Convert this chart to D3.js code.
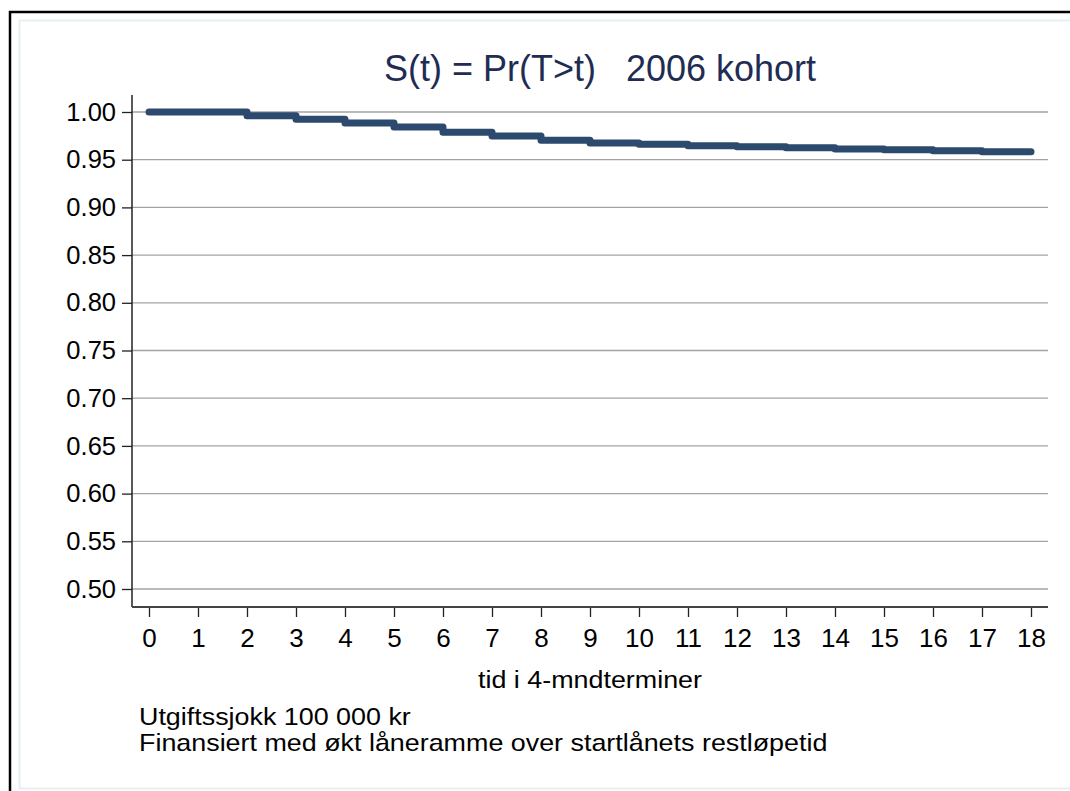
<!DOCTYPE html>
<html lang="no">
  <head>
    <meta charset="utf-8">
    <title>S(t) 2006 kohort</title>
    <script src="https://d3js.org/d3.v7.js"></script>
    <style>
      body { margin: 0; background: white; }
      text { font-family: Arial, "Liberation Sans", sans-serif; }
    </style>
  </head>
  <body>
    <script type="text/javascript">

      // data
      const times = [0, 1, 2, 3, 4, 5, 6, 7, 8, 9, 10, 11, 12, 13, 14, 15, 16, 17, 18];
      const survival = [1.000, 1.000, 0.9962, 0.9923, 0.9885, 0.9843, 0.9787, 0.9748, 0.9703,
                        0.9675, 0.9661, 0.9647, 0.9637, 0.9626, 0.9612, 0.9605, 0.9595, 0.9584, 0.9584];
      const yTicks = [0.50, 0.55, 0.60, 0.65, 0.70, 0.75, 0.80, 0.85, 0.90, 0.95, 1.00];
      const xTicks = times;
      const title = "S(t) = Pr(T>t)   2006 kohort";
      const xTitle = "tid i 4-mndterminer";
      const notes = ["Utgiftssjokk 100 000 kr", "Finansiert med økt låneramme over startlånets restløpetid"];

      const w = 1070;
      const h = 791;
      const plot = {left: 132, right: 1048, top: 95, bottom: 607};

      const svg = d3.select("body")
        .append("svg")
        .attr("width", w)
        .attr("height", h);

      // outer frames
      svg.append("rect")
        .attr("x", 10).attr("y", 12)
        .attr("width", w + 20).attr("height", h + 20)
        .attr("fill", "white")
        .attr("stroke", "black")
        .attr("stroke-width", 2.5);

      svg.append("rect")
        .attr("x", 19.5).attr("y", 20.5)
        .attr("width", w + 20).attr("height", 768)
        .attr("fill", "white")
        .attr("stroke", "#e6eff1")
        .attr("stroke-width", 2);

      const xScale = d3.scaleLinear()
        .domain([0, 18])
        .range([149, 1031]);

      const yScale = d3.scaleLinear()
        .domain([0.5, 1.0])
        .range([589, 112]);

      // gridlines
      svg.append("g")
        .selectAll("line")
        .data(yTicks)
        .enter()
        .append("line")
        .attr("x1", plot.left)
        .attr("x2", plot.right)
        .attr("y1", d => yScale(d))
        .attr("y2", d => yScale(d))
        .attr("stroke", "#a3a3a3")
        .attr("stroke-width", 1.3);

      // y axis
      const yAxis = d3.axisLeft(yScale)
        .tickValues(yTicks)
        .tickFormat(d3.format(".2f"))
        .tickSize(10)
        .tickPadding(6);

      const gy = svg.append("g")
        .attr("transform", `translate(${plot.left}, 0)`)
        .call(yAxis);
      gy.select(".domain").remove();
      gy.selectAll(".tick line").attr("stroke", "#222").attr("stroke-width", 1.3);
      gy.selectAll(".tick text")
        .attr("font-size", 25.5)
        .attr("fill", "black")
        .attr("font-family", "Arial, 'Liberation Sans', sans-serif");

      gy.append("line")
        .attr("x1", 0).attr("x2", 0)
        .attr("y1", plot.top).attr("y2", plot.bottom)
        .attr("stroke", "#222")
        .attr("stroke-width", 1.5);

      // x axis
      const xAxis = d3.axisBottom(xScale)
        .tickValues(xTicks)
        .tickFormat(d3.format("d"))
        .tickSize(10)
        .tickPadding(12);

      const gx = svg.append("g")
        .attr("transform", `translate(0, ${plot.bottom})`)
        .call(xAxis);
      gx.select(".domain").remove();
      gx.selectAll(".tick line").attr("stroke", "#222").attr("stroke-width", 1.3);
      gx.selectAll(".tick text")
        .attr("font-size", 26)
        .attr("fill", "black")
        .attr("font-family", "Arial, 'Liberation Sans', sans-serif");

      gx.append("line")
        .attr("x1", plot.left).attr("x2", plot.right)
        .attr("y1", 0).attr("y2", 0)
        .attr("stroke", "#444")
        .attr("stroke-width", 2);

      // survival step curve
      const line = d3.line()
        .x((d, i) => xScale(times[i]))
        .y(d => yScale(d))
        .curve(d3.curveStepAfter);

      svg.append("path")
        .datum(survival)
        .attr("d", line)
        .attr("fill", "none")
        .attr("stroke", "#2b4a6e")
        .attr("stroke-width", 7)
        .attr("stroke-linecap", "round")
        .attr("stroke-linejoin", "round");

      // title
      svg.append("text")
        .attr("x", 600)
        .attr("y", 81)
        .attr("text-anchor", "middle")
        .attr("font-size", 36)
        .attr("fill", "#1f2d52")
        .style("white-space", "pre")
        .text(title);

      // x axis title (text is a bit wide in the original, so stretch it)
      svg.append("text")
        .attr("transform", `translate(${(plot.left + plot.right) / 2}, 688) scale(1.12, 1)`)
        .attr("text-anchor", "middle")
        .attr("font-size", 24)
        .attr("fill", "black")
        .text(xTitle);

      // notes
      svg.append("g")
        .selectAll("text")
        .data(notes)
        .enter()
        .append("text")
        .attr("transform", (d, i) => `translate(139, ${725 + i * 26}) scale(1.12, 1)`)
        .attr("font-size", 24)
        .attr("fill", "black")
        .text(d => d);

    </script>
  </body>
</html>
